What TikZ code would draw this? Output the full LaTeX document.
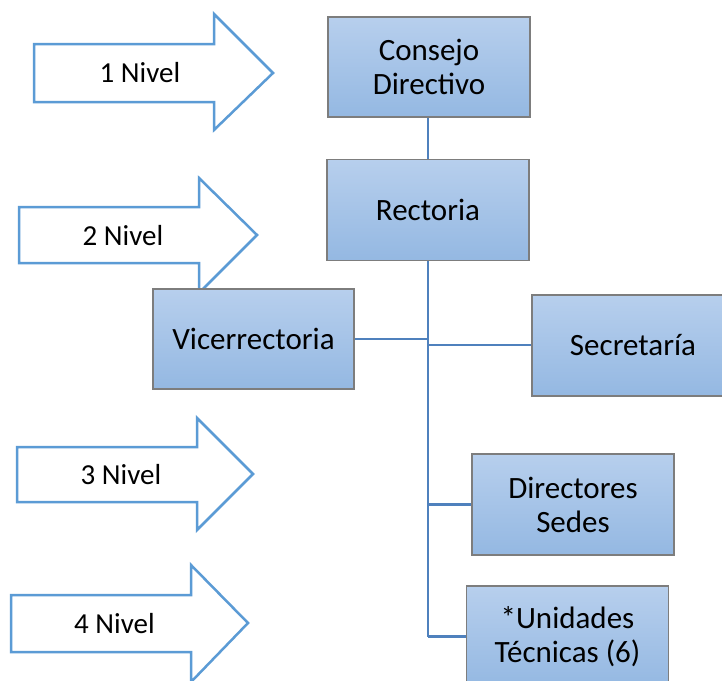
\documentclass[tikz,border=0pt]{standalone}
\usepackage{fontspec}
\setmainfont{Carlito}
\definecolor{boxtop}{RGB}{183,207,237}
\definecolor{boxbot}{RGB}{148,184,226}
\definecolor{boxedge}{RGB}{125,125,125}
\definecolor{linkc}{RGB}{79,129,189}
\definecolor{arrowc}{RGB}{91,155,213}
\tikzset{
  orgbox/.style={draw=boxedge, line width=1.2pt, top color=boxtop, bottom color=boxbot,
    minimum width=202pt, minimum height=101pt, inner sep=0pt, align=center,
    font=\fontsize{31}{34}\selectfont},
  link/.style={draw=linkc, line width=2.3pt},
  levelarrow/.style={draw=arrowc, line width=2.5pt, fill=white, line join=miter},
  leveltext/.style={font=\fontsize{29}{34}\selectfont, inner sep=0pt}
}
\begin{document}
\begin{tikzpicture}[x=1pt,y=-1pt]
\clip (0,0) rectangle (722,680);
\fill[white] (0,0) rectangle (722,680);
% level arrows
\draw[levelarrow] (34,44) -- (214,44) -- (214,14) -- (273,73) -- (214,130) -- (214,102) -- (34,102) -- cycle;
\node[leveltext] (n1) at (140,73) {1 Nivel};
\draw[levelarrow] (19,207) -- (199,207) -- (199,178) -- (257,235) -- (199,293) -- (199,263) -- (19,263) -- cycle;
\node[leveltext] (n2) at (123,236) {2 Nivel};
\draw[levelarrow] (17,447) -- (197,447) -- (197,418) -- (253,474) -- (197,530) -- (197,502) -- (17,502) -- cycle;
\node[leveltext] (n3) at (121,475) {3 Nivel};
\draw[levelarrow] (11,595) -- (191,595) -- (191,565) -- (248,623) -- (191,682) -- (191,652) -- (11,652) -- cycle;
\node[leveltext] (n4) at (114.5,624) {4 Nivel};
% boxes
\node[orgbox, minimum height=100pt] (cd) at (429,67) {Consejo\\Directivo};
\node[orgbox] (rec) at (428,210) {Rectoria};
\node[orgbox, minimum width=201pt, minimum height=100pt] (vic) at (253.5,339) {Vicerrectoria};
\node[orgbox] (sec) at (633,345.5) {Secretaría};
\node[orgbox] (dir) at (573,504.5) {Directores\\Sedes};
\node[orgbox] (uni) at (567.5,636.5) {*Unidades\\Técnicas (6)};
% connectors
\coordinate (jv) at (428,339);
\coordinate (js) at (428,345);
\coordinate (jd) at (428,504.5);
\coordinate (ju) at (428,636.5);
\draw[link] (cd.south -| rec.south) -- (rec.north);
\draw[link] (rec.south) -- (ju);
\draw[link] (vic.east) -- (jv);
\draw[link] (js) -- (sec.west |- js);
\draw[link] (jd) -- (dir.west);
\draw[link] (ju) -- (uni.west);
\end{tikzpicture}
\end{document}
